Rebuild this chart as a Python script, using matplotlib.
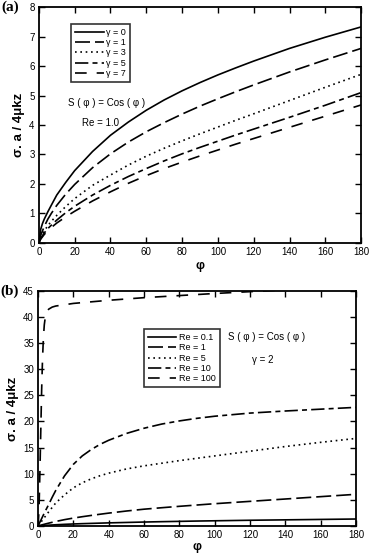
import numpy as np
import matplotlib
matplotlib.use("Agg")
import matplotlib.pyplot as plt

plt.rcParams['font.family'] = ['Liberation Sans', 'DejaVu Sans']

# ---- panel (a): Re = 1.0, several gamma ----
phi_a = [0, 1, 2, 3, 5, 7, 10, 15, 20, 30, 40, 50, 60, 70, 80, 90, 100, 110, 120, 140, 160, 180]
gamma_labels = ["\u03b3 = 0", "\u03b3 = 1", "\u03b3 = 3", "\u03b3 = 5", "\u03b3 = 7"]
g0 = [0, 0.45, 0.65, 0.8, 1.05, 1.28, 1.62, 2.05, 2.45, 3.1, 3.65, 4.1, 4.5, 4.85,
      5.16, 5.44, 5.7, 5.94, 6.17, 6.6, 6.98, 7.33]
g1 = [0, 0.25, 0.4, 0.55, 0.8, 1.0, 1.27, 1.65, 1.98, 2.55, 3.02, 3.42, 3.77, 4.08,
      4.37, 4.64, 4.89, 5.13, 5.36, 5.8, 6.21, 6.6]
g3 = [0, 0.18, 0.3, 0.4, 0.58, 0.73, 0.93, 1.23, 1.5, 1.95, 2.3, 2.64, 2.94, 3.21,
      3.46, 3.7, 3.93, 4.16, 4.38, 4.83, 5.28, 5.72]
g5 = [0, 0.14, 0.24, 0.33, 0.48, 0.6, 0.77, 1.02, 1.24, 1.62, 1.95, 2.25, 2.52, 2.78,
      3.02, 3.24, 3.45, 3.66, 3.86, 4.26, 4.67, 5.1]
g7 = [0, 0.12, 0.2, 0.28, 0.41, 0.52, 0.67, 0.88, 1.07, 1.42, 1.73, 2.02, 2.28, 2.52,
      2.74, 2.95, 3.15, 3.35, 3.54, 3.92, 4.3, 4.68]

# ---- panel (b): gamma = 2, several Re ----
phi_b = [0, 2, 4, 6, 8, 10, 15, 20, 25, 30, 35, 40, 50, 60, 70, 80, 90, 100, 120, 140, 160, 180]
re_labels = ["Re = 0.1", "Re = 1", "Re = 5", "Re = 10", "Re = 100"]
re01 = [0, 0.05, 0.1, 0.14, 0.18, 0.22, 0.3, 0.37, 0.43, 0.48, 0.53, 0.58, 0.66, 0.74,
        0.81, 0.87, 0.93, 0.98, 1.08, 1.16, 1.24, 1.32]
re1 = [0, 0.18, 0.36, 0.53, 0.69, 0.85, 1.2, 1.5, 1.76, 2.0, 2.23, 2.45, 2.85, 3.2,
       3.48, 3.75, 4.0, 4.25, 4.7, 5.15, 5.6, 6.05]
re5 = [0, 0.9, 1.8, 2.7, 3.55, 4.4, 5.95, 7.3, 8.25, 9.0, 9.6, 10.1, 10.9, 11.5,
       12.0, 12.5, 12.95, 13.4, 14.3, 15.2, 16.0, 16.75]
re10 = [0, 1.4, 2.8, 4.1, 5.5, 6.8, 9.6, 11.8, 13.4, 14.6, 15.6, 16.4, 17.7, 18.7,
        19.5, 20.1, 20.6, 21.0, 21.6, 22.0, 22.35, 22.7]
phi_b100 = [0, 0.5, 1, 1.5, 2, 2.5, 3, 3.5, 4, 5, 6, 8, 10, 20, 40, 60, 80, 100, 120, 140, 160, 180]
re100 = [0, 3, 10, 18, 26, 32, 36, 38.5, 39.8, 41.0, 41.5, 41.9, 42.1, 42.6, 43.2, 43.7,
         44.1, 44.5, 44.85, 45.2, 45.5, 45.8]

styles = [
    dict(linestyle='-'),
    dict(linestyle=(0, (9, 3))),
    dict(linestyle=(0, (1, 2.2))),
    dict(linestyle=(0, (8, 2.5, 3, 2.5))),
    dict(linestyle=(0, (7, 6))),
]

fig = plt.figure(figsize=(3.7, 5.53), dpi=100)
ax1 = fig.add_axes([0.105, 0.561, 0.871, 0.426])
ax2 = fig.add_axes([0.103, 0.049, 0.859, 0.425])

ylabel = "\u03c3. a / 4\u03bckz"
leg_kw = dict(fontsize=6.5, frameon=True, fancybox=False, edgecolor='black',
              handlelength=3.2, handletextpad=0.3, labelspacing=0.15,
              borderpad=0.4, borderaxespad=0)

for ys, lab, st in zip([g0, g1, g3, g5, g7], gamma_labels, styles):
    ax1.plot(phi_a, ys, color='black', lw=1.2, label=lab, **st)
ax1.set_xlim(0, 180)
ax1.set_ylim(0, 8)
ax1.set_xticks(np.arange(0, 181, 20))
ax1.set_yticks(np.arange(0, 9, 1))
ax1.set_xlabel("\u03c6", fontweight='bold', fontsize=9, labelpad=2)
ax1.set_ylabel(ylabel, fontweight='bold', fontsize=9.5, labelpad=3)
leg1 = ax1.legend(loc='upper left', bbox_to_anchor=(0.1, 0.928), **leg_kw)
leg1.get_frame().set_linewidth(1.2)
ax1.text(0.21, 0.595, "S ( \u03c6 ) = Cos ( \u03c6 )", transform=ax1.transAxes,
         fontsize=7, ha='center', va='center')
ax1.text(0.19, 0.51, "Re = 1.0", transform=ax1.transAxes, fontsize=7,
         ha='center', va='center')
fig.text(0.005, 0.986, "(a)", fontsize=11, fontweight='bold',
         family=['Liberation Serif', 'DejaVu Serif'], va='center')

for xs, ys, lab, st in zip([phi_b, phi_b, phi_b, phi_b, phi_b100],
                           [re01, re1, re5, re10, re100], re_labels, styles):
    ax2.plot(xs, ys, color='black', lw=1.2, label=lab, **st)
ax2.set_xlim(0, 180)
ax2.set_ylim(0, 45)
ax2.set_xticks(np.arange(0, 181, 20))
ax2.set_yticks(np.arange(0, 46, 5))
ax2.set_xlabel("\u03c6", fontweight='bold', fontsize=9, labelpad=1)
ax2.set_ylabel(ylabel, fontweight='bold', fontsize=9.5, labelpad=3)
leg2 = ax2.legend(loc='upper left', bbox_to_anchor=(0.333, 0.836), **leg_kw)
leg2.get_frame().set_linewidth(1.2)
ax2.text(0.72, 0.805, "S ( \u03c6 ) = Cos ( \u03c6 )", transform=ax2.transAxes,
         fontsize=7, ha='center', va='center')
ax2.text(0.707, 0.705, "\u03b3 = 2", transform=ax2.transAxes, fontsize=7,
         ha='center', va='center')
fig.text(0.0, 0.474, "(b)", fontsize=11, fontweight='bold',
         family=['Liberation Serif', 'DejaVu Serif'], va='center')

for ax in (ax1, ax2):
    ax.tick_params(direction='in', top=True, right=True, labelsize=7,
                   length=4, width=1, pad=3)
    for sp in ax.spines.values():
        sp.set_linewidth(1.3)

fig.savefig("out.png", dpi=100)
